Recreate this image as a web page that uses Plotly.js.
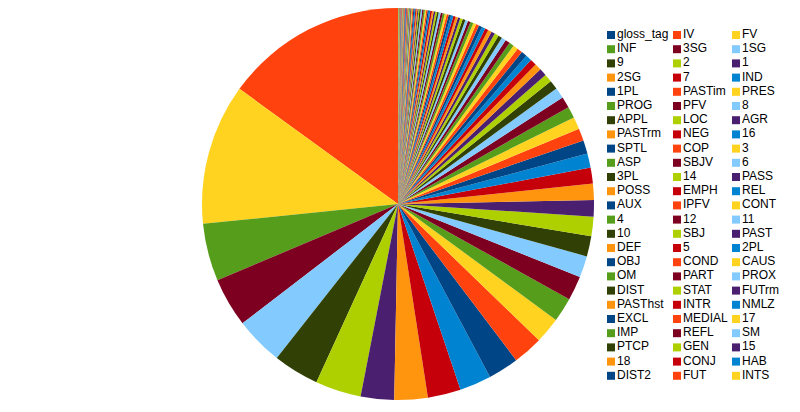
<!DOCTYPE html>
<html>
<head>
<meta charset="utf-8">
<script src="https://cdn.plot.ly/plotly-3.0.1.min.js"></script>
<style>
  html, body { margin: 0; padding: 0; background: #fff; }
</style>
</head>
<body>
<div id="chart"></div>
<script>
// gloss tags as listed in the legend (row by row, three per row)
const tags = [
  'gloss_tag', 'IV', 'FV', 'INF', '3SG', '1SG', '9', '2', '1', '2SG', '7', 'IND',
  '1PL', 'PASTim', 'PRES', 'PROG', 'PFV', '8', 'APPL', 'LOC', 'AGR', 'PASTrm', 'NEG', '16',
  'SPTL', 'COP', '3', 'ASP', 'SBJV', '6', '3PL', '14', 'PASS', 'POSS', 'EMPH', 'REL',
  'AUX', 'IPFV', 'CONT', '4', '12', '11', '10', 'SBJ', 'PAST', 'DEF', '5', '2PL',
  'OBJ', 'COND', 'CAUS', 'OM', 'PART', 'PROX', 'DIST', 'STAT', 'FUTrm', 'PASThst', 'INTR', 'NMLZ',
  'EXCL', 'MEDIAL', '17', 'IMP', 'REFL', 'SM', 'PTCP', 'GEN', '15', '18', 'CONJ', 'HAB',
  'DIST2', 'FUT', 'INTS',
];

const counts = [
  0, 540, 418, 171, 146, 143, 136, 136, 99, 99, 98, 94,
  91, 89, 77, 72, 72, 64, 60, 58, 49, 48, 47, 42,
  40, 37, 36, 34, 33, 32, 27, 24, 22, 20, 19, 18,
  17, 16, 15, 14, 14, 13, 12, 12, 11, 11, 10, 10,
  10, 9, 9, 9, 8, 8, 8, 8, 7, 7, 7, 7,
  7, 6, 6, 6, 6, 6, 5, 5, 5, 5, 5, 4,
  4, 4, 4,
];

// the thin slices near 12 o'clock that did not fit in the legend
const otherTags = [
  'tag76', 'tag77', 'tag78', 'tag79', 'tag80', 'tag81', 'tag82', 'tag83', 'tag84', 'tag85',
  'tag86', 'tag87', 'tag88', 'tag89', 'tag90', 'tag91', 'tag92', 'tag93', 'tag94', 'tag95',
  'tag96', 'tag97', 'tag98', 'tag99', 'tag100', 'tag101', 'tag102', 'tag103', 'tag104', 'tag105',
  'tag106', 'tag107', 'tag108', 'tag109', 'tag110', 'tag111', 'tag112', 'tag113', 'tag114', 'tag115',
  'tag116',
];

const otherCounts = [
  4, 4, 4, 4, 3, 3, 3, 3, 3, 3,
  3, 2, 2, 2, 2, 2, 2, 2, 2, 2,
  2, 2, 2, 1, 1, 1, 1, 1, 1, 1,
  1, 1, 1, 1, 1, 1, 1, 1, 1, 1,
  1,
];

// office-style default palette, repeated
const palette = [
  '#004586', '#ff420e', '#ffd320', '#579d1c', '#7e0021', '#83caff',
  '#314004', '#aecf00', '#4b1f6f', '#ff950e', '#c5000b', '#0084d1',
];

const allTags = tags.concat(otherTags);
const allCounts = counts.concat(otherCounts);
const sliceColors = allTags.map((t, i) => palette[i % palette.length]);

// legend columns (pixel x of the swatch centre)
const legendColX = [611, 677, 736];
const ROW_PITCH = 14.2;
const FIRST_ROW_Y = 35;
const HEIGHT = 412;

const pie = {
  type: 'pie',
  labels: allTags,
  values: allCounts,
  sort: false,
  direction: 'counterclockwise',
  rotation: 0,
  textinfo: 'none',
  hoverinfo: 'label+value+percent',
  showlegend: false,
  marker: { colors: sliceColors, line: { width: 0 } },
  domain: { x: [202 / 800, 594 / 800], y: [12 / HEIGHT, 404 / HEIGHT] },
};

// the legend, drawn as square markers with labels
const legend = {
  type: 'scatter',
  mode: 'markers+text',
  x: tags.map((t, i) => legendColX[i % 3]),
  y: tags.map((t, i) => Math.floor(i / 3)),
  text: tags,
  textposition: 'middle right',
  textfont: { family: 'Liberation Sans, Arial, sans-serif', size: 12, color: '#000' },
  marker: { symbol: 'square', size: 8, color: tags.map((t, i) => palette[i % palette.length]) },
  hoverinfo: 'skip',
  cliponaxis: false,
  showlegend: false,
};

const yTop = -FIRST_ROW_Y / ROW_PITCH;
const yBottom = yTop + HEIGHT / ROW_PITCH;

const layout = {
  width: 800,
  height: HEIGHT,
  margin: { l: 0, r: 0, t: 0, b: 0 },
  paper_bgcolor: '#fff',
  plot_bgcolor: 'rgba(0,0,0,0)',
  showlegend: false,
  font: { family: 'Liberation Sans, Arial, sans-serif', size: 12, color: '#000' },
  xaxis: { domain: [0, 1], range: [0, 800], visible: false, fixedrange: true },
  yaxis: { domain: [0, 1], range: [yBottom, yTop], visible: false, fixedrange: true },
};

Plotly.newPlot('chart', [legend, pie], layout, { displayModeBar: false, staticPlot: true });
</script>
</body>
</html>
